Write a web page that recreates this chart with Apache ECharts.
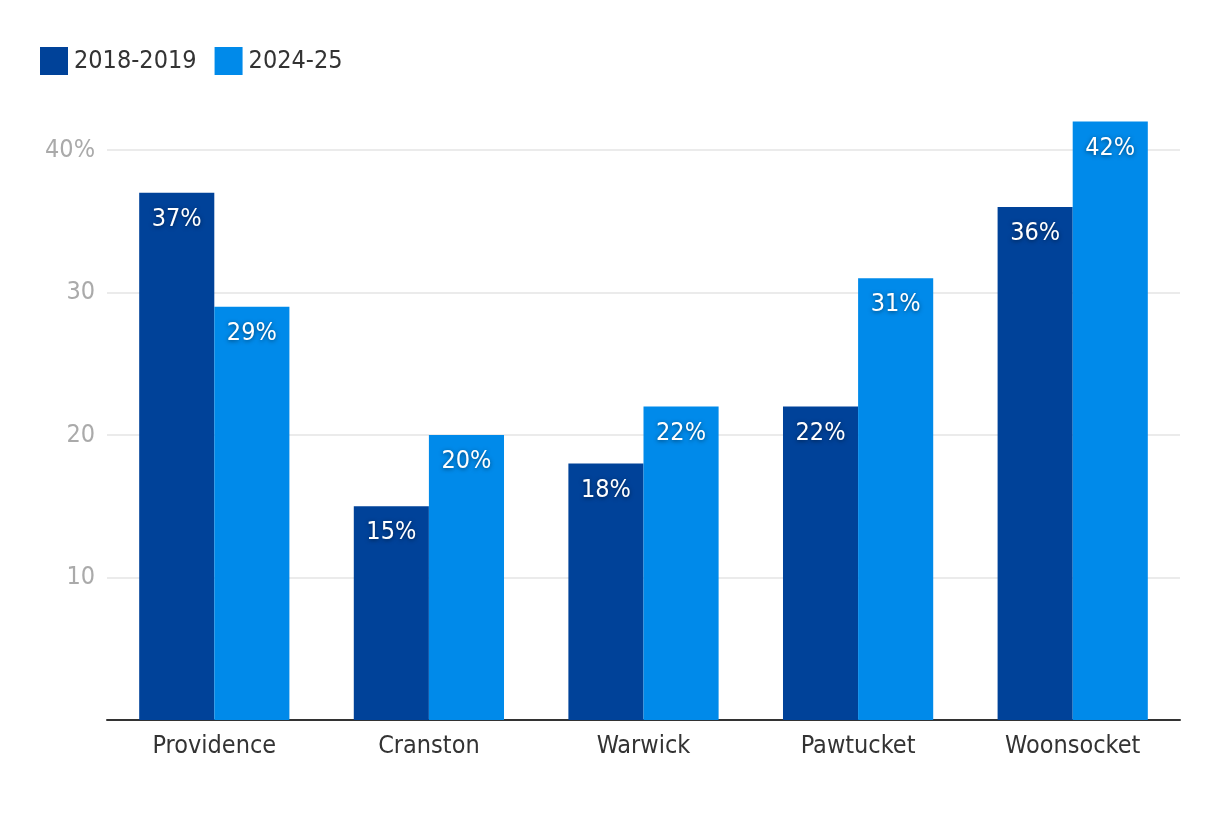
<!DOCTYPE html>
<html><head><meta charset="utf-8">
<script src="https://cdn.jsdelivr.net/npm/echarts@6/dist/echarts.min.js"></script>
<style>html,body{margin:0;padding:0;background:#fff}#c{width:1220px;height:814px}</style>
</head><body><div id="c"></div>
<script>
const categories = ['Providence', 'Cranston', 'Warwick', 'Pawtucket', 'Woonsocket'];
const series2018 = [37, 15, 18, 22, 36];
const series2024 = [29, 20, 22, 31, 42];
const seriesNames = ['2018-2019', '2024-25'];
const FONT = '"Liberation Sans Narrow", "DejaVu Sans Condensed", sans-serif';
const chart = echarts.init(document.getElementById('c'));
const labelStyle = {
  show: true, position: 'insideTop', distance: 14,
  color: '#fff', fontSize: 25, fontFamily: FONT,
  textShadowColor: 'rgba(0,0,0,0.5)', textShadowBlur: 4, textShadowOffsetY: 1,
  formatter: p => p.value + '%'
};
chart.setOption({
  animation: false,
  textStyle: { fontFamily: FONT },
  legend: {
    left: 35, top: 42, itemWidth: 28, itemHeight: 28, itemGap: 18,
    icon: 'rect',
    textStyle: { fontSize: 25, color: '#333', fontFamily: FONT, padding: [0, 0, 0, 1] },
    data: seriesNames
  },
  grid: { left: 107, right: 40, top: 150, bottom: 94 },
  xAxis: {
    type: 'category', data: categories,
    axisLine: { lineStyle: { color: '#333', width: 2 } },
    axisTick: { show: false },
    axisLabel: { fontSize: 25, color: '#333', margin: 14, fontFamily: FONT }
  },
  yAxis: {
    type: 'value', min: 0, max: 40, interval: 10,
    axisLine: { show: false }, axisTick: { show: false },
    splitLine: { lineStyle: { color: '#e4e4e4', width: 1.5 } },
    axisLabel: {
      fontSize: 25, color: '#aaa', margin: 12, fontFamily: FONT,
      formatter: v => v === 0 ? '' : (v === 40 ? v + '%' : String(v))
    }
  },
  series: [
    { name: seriesNames[0], type: 'bar', data: series2018, clip: false,
      itemStyle: { color: '#004299' }, barGap: '0%', barCategoryGap: '30%', label: labelStyle },
    { name: seriesNames[1], type: 'bar', data: series2024, clip: false,
      itemStyle: { color: '#008AEA' }, label: labelStyle }
  ]
});
</script></body></html>
